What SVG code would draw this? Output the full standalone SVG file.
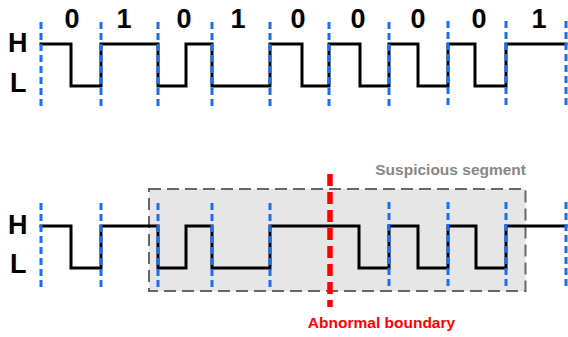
<svg xmlns="http://www.w3.org/2000/svg" width="568" height="337" viewBox="0 0 568 337">
<style>
.lbl{font-family:"Liberation Sans",Arial,sans-serif;font-weight:bold;font-size:27px;fill:#000}
.sig{fill:none;stroke:#000;stroke-width:3;stroke-linejoin:miter;stroke-linecap:square}
.clk{stroke:#1a6ef5;stroke-width:3;stroke-dasharray:7 4}
.note{font-family:"Liberation Sans",Arial,sans-serif;font-weight:bold;font-size:15.5px}
</style>
<rect width="568" height="337" fill="#fff"/>
<g id="segment">
<rect x="149" y="189" width="376.5" height="102" fill="#e6e6e6" stroke="#666" stroke-width="2" stroke-dasharray="12 6"/>
<text class="note" x="526" y="175" text-anchor="end" fill="#888">Suspicious segment</text>
</g>
<g id="labels">
<text class="lbl" x="8" y="52">H</text>
<text class="lbl" x="10" y="92">L</text>
<text class="lbl" x="8" y="234">H</text>
<text class="lbl" x="10" y="273">L</text>
<g text-anchor="middle">
<text class="lbl" x="72" y="27.5">0</text>
<text class="lbl" x="124" y="27.5">1</text>
<text class="lbl" x="184" y="27.5">0</text>
<text class="lbl" x="238" y="27.5">1</text>
<text class="lbl" x="298" y="27.5">0</text>
<text class="lbl" x="358" y="27.5">0</text>
<text class="lbl" x="418" y="27.5">0</text>
<text class="lbl" x="479" y="27.5">0</text>
<text class="lbl" x="539" y="27.5">1</text>
</g>
</g>
<g id="connectors">
<path id="top-signal" class="sig" d="M41 44 H71 V86 H101 V44 H158 V86 H186 V44 H212 V86 H270 V44 H302 V86 H329 V44 H360 V86 H389 V44 H418 V86 H448 V44 H475 V86 H506 V44 H566"/>
<path id="bottom-signal" class="sig" d="M41 226 H71 V268 H101 V226 H158 V268 H186 V226 H212 V268 H270 V226 H359 V268 H389 V226 H418 V268 H448 V226 H476 V268 H506 V226 H566"/>
<g id="top-clock">
<line class="clk" x1="41" y1="22" x2="41" y2="106"/>
<line class="clk" x1="101" y1="22" x2="101" y2="106"/>
<line class="clk" x1="158" y1="22" x2="158" y2="106"/>
<line class="clk" x1="212" y1="22" x2="212" y2="106"/>
<line class="clk" x1="270" y1="22" x2="270" y2="106"/>
<line class="clk" x1="329" y1="22" x2="329" y2="106"/>
<line class="clk" x1="389" y1="22" x2="389" y2="106"/>
<line class="clk" x1="448" y1="21" x2="448" y2="106"/>
<line class="clk" x1="506" y1="21" x2="506" y2="106"/>
<line class="clk" x1="566" y1="21" x2="566" y2="106"/>
</g>
<g id="bottom-clock">
<line class="clk" x1="41" y1="203" x2="41" y2="287"/>
<line class="clk" x1="101" y1="203" x2="101" y2="287"/>
<line class="clk" x1="158" y1="203" x2="158" y2="287"/>
<line class="clk" x1="212" y1="203" x2="212" y2="287"/>
<line class="clk" x1="270" y1="203" x2="270" y2="287"/>
<line class="clk" x1="389" y1="202" x2="389" y2="287"/>
<line class="clk" x1="448" y1="202" x2="448" y2="287"/>
<line class="clk" x1="506" y1="202" x2="506" y2="287"/>
<line class="clk" x1="566" y1="202" x2="566" y2="287"/>
</g>
</g>
<g id="boundary">
<line x1="330" y1="174" x2="330" y2="307" stroke="#ff0000" stroke-width="5.5" stroke-dasharray="12 6"/>
<text class="note" x="381.5" y="328" text-anchor="middle" fill="#ff0000">Abnormal boundary</text>
</g>
</svg>
